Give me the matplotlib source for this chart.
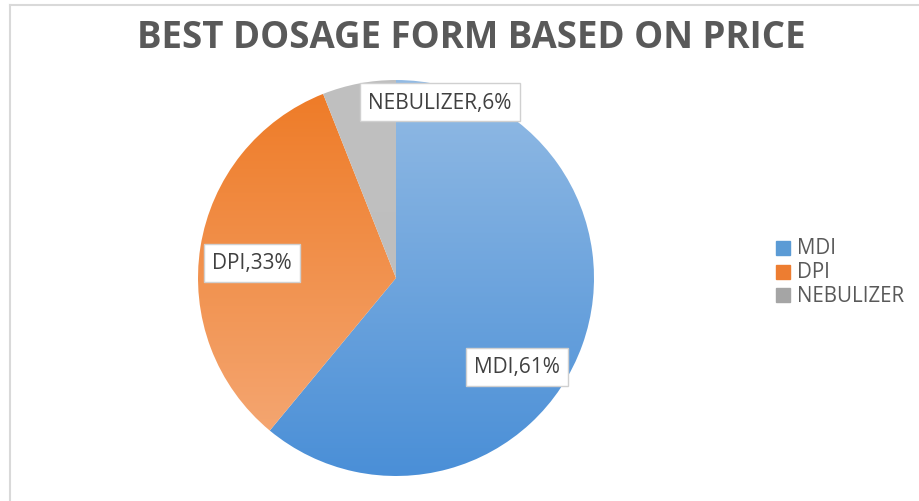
import numpy as np
import matplotlib.pyplot as plt
from matplotlib.colors import LinearSegmentedColormap

# 数据
labels = ['MDI', 'DPI', 'NEBULIZER']
values = [61, 33, 6]
title = 'BEST DOSAGE FORM BASED ON PRICE'

# 渐变色 (上 -> 下)
grads = [('#93bbe4', '#4a8fd7'), ('#ee7a25', '#f5ab7a'), ('#c0c0c0', '#bdbdbd')]
legend_colors = ['#5b9bd5', '#ed7d31', '#a5a5a5']

W, H = 919, 502
cx, cy, r = 396, H - 279, 198

plt.rcParams['font.family'] = ['Open Sans', 'DejaVu Sans']
fig = plt.figure(figsize=(W / 100, H / 100), dpi=100)
ax = fig.add_axes([0, 0, 1, 1])

# 外框
ax.plot([10, W], [H - 6, H - 6], color='#d9d9d9', lw=1.5)
ax.plot([10, 10], [0, H - 6], color='#d9d9d9', lw=1.5)

wedges, _ = ax.pie(values, startangle=90, counterclock=False, radius=r,
                   center=(cx, cy), frame=True, colors=['none'] * 3)
ax.set_xlim(0, W)
ax.set_ylim(0, H)
ax.axis('off')

for w, (c1, c2) in zip(wedges, grads):
    cmap = LinearSegmentedColormap.from_list('g', [c1, c2])
    grad = np.linspace(0, 1, 256).reshape(-1, 1)
    im = ax.imshow(grad, cmap=cmap, extent=(cx - r, cx + r, cy - r, cy + r),
                   origin='upper', aspect='auto', zorder=1)
    im.set_clip_path(w)

# 标签
box = dict(boxstyle='square,pad=0.4', fc='white', ec='#d0d0d0', lw=1)
label_pos = [(517, 368), (252, 264), (440, 103)]
for lab, v, (x, y) in zip(labels, values, label_pos):
    ax.text(x, H - y, f'{lab},{v}%', ha='center', va='center', fontsize=15,
            color='#404040', bbox=box, zorder=5)

ax.text(471, H - 38, title, ha='center', va='center', fontsize=26.4,
        fontweight='bold', color='#595959')

# 图例
for i, (lab, c) in enumerate(zip(labels, legend_colors)):
    y = H - (249 + i * 23.5)
    ax.add_patch(plt.Rectangle((776, y - 7), 14, 14, color=c))
    ax.text(797, y, lab, ha='left', va='center', fontsize=14.8, color='#595959')

fig.savefig('out.png', dpi=100)
